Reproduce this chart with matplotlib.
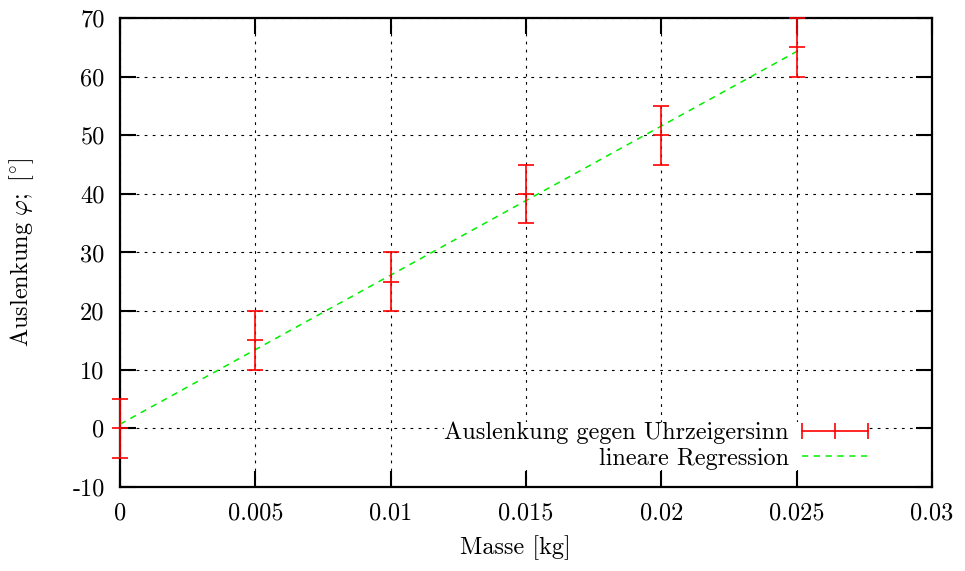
import numpy as np
import matplotlib
matplotlib.use("Agg")
import matplotlib.pyplot as plt
from matplotlib.lines import Line2D
from matplotlib.legend_handler import HandlerLine2D

# ---- data ----
masse = [0.0, 0.005, 0.01, 0.015, 0.02, 0.025]
auslenkung = [0, 15, 25, 40, 50, 65]
fehler = [5, 5, 5, 5, 5, 5]
xticks = [0, 0.005, 0.01, 0.015, 0.02, 0.025, 0.03]
xticklabels = ["0", "0.005", "0.01", "0.015", "0.02", "0.025", "0.03"]
yticks = [-10, 0, 10, 20, 30, 40, 50, 60, 70]
yticklabels = ["-10", "0", "10", "20", "30", "40", "50", "60", "70"]

plt.rcParams["font.family"] = "cmr10"
plt.rcParams["mathtext.fontset"] = "cm"
plt.rcParams["axes.unicode_minus"] = False
plt.rcParams["axes.formatter.use_mathtext"] = True
plt.rcParams["lines.scale_dashes"] = False

FS = 17.5
RED = "#ff0000"
GREEN = "#00f000"

fig = plt.figure(figsize=(9.65, 5.71), dpi=100)
ax = fig.add_axes([120/965, 1-487/571, 812/965, 469/571])

# linear regression
x = np.array(masse)
y = np.array(auslenkung)
m, b = np.polyfit(x, y, 1)
xr = np.array([x.min(), x.max()])
ax.plot(xr, m*xr + b, color=GREEN, lw=1.1, dashes=(4.5, 4.0), zorder=3)

# error bars
ax.errorbar(masse, auslenkung, yerr=fehler, fmt="none", ecolor=RED,
            elinewidth=1.2, capsize=6, capthick=1.2, zorder=4, clip_on=False)
ax.plot(masse, auslenkung, ls="none", marker="_", ms=12, mew=1.2,
        color=RED, zorder=4, clip_on=False)

ax.set_xlim(0, 0.03)
ax.set_ylim(-10, 70)
ax.set_xticks(xticks)
ax.set_xticklabels(xticklabels)
ax.set_yticks(yticks)
ax.set_yticklabels(yticklabels)

ax.tick_params(direction="in", length=11.5, width=1.5, labelsize=FS,
               top=True, right=True, labeltop=False, labelright=False)
ax.tick_params(axis="y", pad=11)
ax.tick_params(axis="x", pad=11)
for s in ax.spines.values():
    s.set_linewidth(1.6)

ax.grid(True, color="black", lw=0.8, ls=(0, (2.0, 3.8)))
ax.set_axisbelow(True)

ax.set_xlabel("Masse [kg]", fontsize=FS)
ax.xaxis.set_label_coords(0.487, -0.102)
ax.set_ylabel(r"$\mathrm{Auslenkung}\ \varphi;\ [{}^{\circ}]$", fontsize=FS)
ax.yaxis.set_label_coords(-0.103, 0.5)

h1 = Line2D([], [], color=RED, lw=1.2, marker="|", ms=12, mew=1.2)
h2 = Line2D([], [], color=GREEN, lw=1.1, dashes=(4.5, 4.0))
leg = ax.legend([h1, h2], ["Auslenkung gegen Uhrzeigersinn", "lineare Regression"],
                loc="lower right", bbox_to_anchor=(868/965, (571-470)/571),
                bbox_transform=fig.transFigure, markerfirst=False,
                fontsize=FS, handlelength=2.7, handletextpad=0.55,
                labelspacing=0.15, borderpad=0.0, borderaxespad=0.0,
                frameon=True, fancybox=False, framealpha=1.0,
                handler_map={h1: HandlerLine2D(numpoints=3, marker_pad=0)})
leg.get_frame().set_edgecolor("none")
leg.get_frame().set_facecolor("white")
leg.set_zorder(5)

fig.savefig("out.png", dpi=100)
